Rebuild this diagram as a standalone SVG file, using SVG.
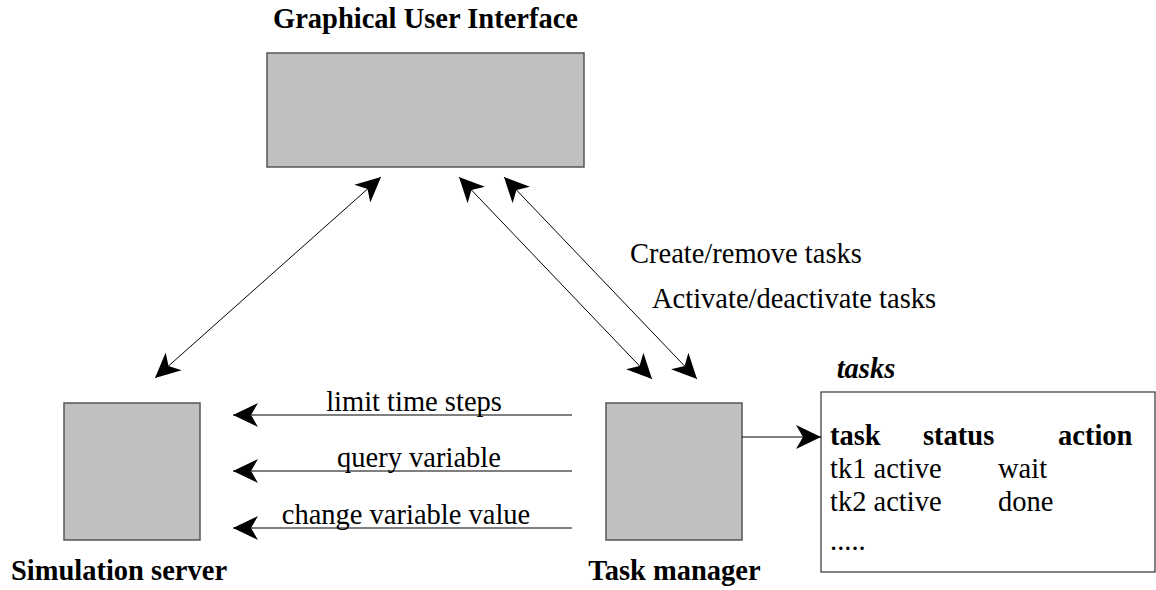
<svg xmlns="http://www.w3.org/2000/svg" width="1156" height="590" viewBox="0 0 1156 590">
<style>
text{font-family:"Liberation Serif","Times New Roman",serif;font-size:28.5px;fill:#000}
.b{font-weight:bold}
.box{fill:#c0c0c0;stroke:#555;stroke-width:1.5}
.tbl{fill:#fff;stroke:#333;stroke-width:1.2}
.ln{stroke:#000;stroke-width:1;fill:none}
</style>
<defs>
<marker id="ah" markerUnits="userSpaceOnUse" viewBox="-26 -13 28 26" refX="0" refY="0" markerWidth="28" markerHeight="26" orient="auto-start-reverse">
<path d="M0,0 L-25,-12 L-18,0 L-25,12 Z" fill="#000"/>
</marker>
</defs>
<rect width="1156" height="590" fill="#fff"/>
<g id="gui">
<rect class="box" x="267" y="53" width="317" height="114"/>
<text class="b" x="425.5" y="28" text-anchor="middle">Graphical User Interface</text>
</g>
<g id="sim">
<rect class="box" x="64" y="403" width="136" height="137"/>
<text class="b" x="119" y="580" text-anchor="middle">Simulation server</text>
</g>
<g id="tm">
<rect class="box" x="606" y="403" width="136" height="137"/>
<text class="b" x="674.5" y="580" text-anchor="middle">Task manager</text>
</g>
<g id="tasks">
<rect class="tbl" x="821" y="392" width="334" height="180"/>
<text class="b" x="866" y="378" text-anchor="middle" font-style="italic">tasks</text>
<text class="b" x="830" y="445">task</text>
<text class="b" x="923" y="445">status</text>
<text class="b" x="1058" y="445">action</text>
<text x="830" y="478">tk1 active</text>
<text x="998" y="478">wait</text>
<text x="830" y="511">tk2 active</text>
<text x="998" y="511">done</text>
<text x="830" y="550">.....</text>
</g>
<g id="connectors">
<line class="ln" x1="155" y1="378" x2="381" y2="177" marker-start="url(#ah)" marker-end="url(#ah)"/>
<line class="ln" x1="459" y1="177" x2="652" y2="379" marker-start="url(#ah)" marker-end="url(#ah)"/>
<line class="ln" x1="504" y1="177" x2="697" y2="379" marker-start="url(#ah)" marker-end="url(#ah)"/>
<line class="ln" x1="572" y1="415" x2="233" y2="415" marker-end="url(#ah)"/>
<line class="ln" x1="572" y1="471" x2="233" y2="471" marker-end="url(#ah)"/>
<line class="ln" x1="572" y1="528" x2="233" y2="528" marker-end="url(#ah)"/>
<line class="ln" x1="742" y1="437" x2="821" y2="437" marker-end="url(#ah)"/>
<text x="414" y="411" text-anchor="middle">limit time steps</text>
<text x="419" y="467" text-anchor="middle">query variable</text>
<text x="406" y="524" text-anchor="middle">change variable value</text>
<text x="630" y="263">Create/remove tasks</text>
<text x="652" y="308">Activate/deactivate tasks</text>
</g>
</svg>
